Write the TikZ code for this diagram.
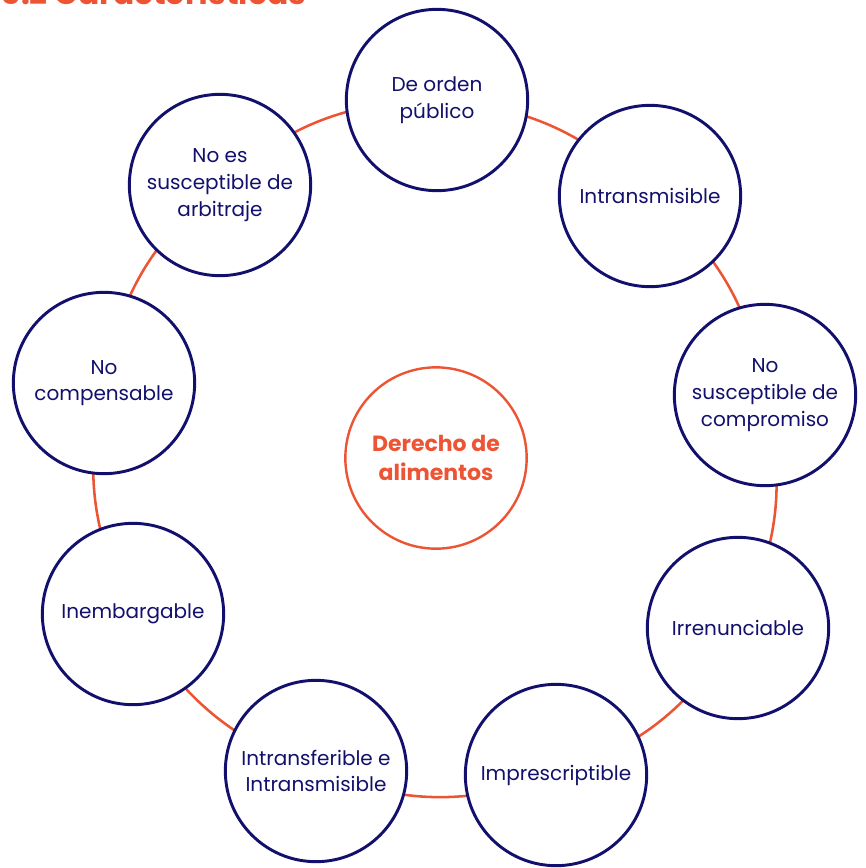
\documentclass[tikz,border=0pt]{standalone}
\usepackage{fontspec}
\setmainfont{Poppins}
\definecolor{dnavy}{RGB}{18,16,108}
\definecolor{dorange}{RGB}{236,84,52}
\usetikzlibrary{positioning,backgrounds}

\begin{document}
\begin{tikzpicture}[x=0.75pt, y=-0.75pt,
  trait/.style={circle, draw=dnavy, line width=2.2pt, fill=white, minimum size=136pt, inner sep=0pt, align=center, text=dnavy, font=\fontsize{15}{20}\selectfont},
  core/.style={circle, draw=dorange, line width=1.8pt, fill=white, minimum size=136pt, inner sep=0pt, align=center, text=dorange, font=\fontsize{16.5}{21.5}\selectfont\bfseries},
  ring/.style={draw=dorange, line width=1.9pt}]
  \useasboundingbox (0,0) rectangle (866,868);
  \clip (0,0) rectangle (866,868);

  \node[anchor=base west, text=dorange, font=\fontsize{23.5}{28}\selectfont\bfseries] (title) at (-4,4) {5.2 Características};

  \node[core]  (core) at (436,458) {Derecho de\\alimentos};

  \node[trait] (t1) at (437,100) {De orden\\público};
  \node[trait] (t2) at (650,196) {Intransmisible};
  \node[trait] (t3) at (765,395) {No\\susceptible de\\compromiso};
  \node[trait] (t4) at (738,628) {Irrenunciable};
  \node[trait] (t5) at (556,775) {Imprescriptible};
  \node[trait] (t6) at (316,771) {Intransferible e\\Intransmisible};
  \node[trait] (t7) at (133,614) {Inembargable};
  \node[trait] (t8) at (104,383) {No\\compensable};
  \node[trait] (t9) at (220,185) {No es\\susceptible de\\arbitraje};

  % ring behind the circles
  \begin{pgfonlayer}{background}
    \draw[ring] (t1.center) to[bend left=20] (t2.center);
    \draw[ring] (t2.center) to[bend left=20] (t3.center);
    \draw[ring] (t3.center) to[bend left=20] (t4.center);
    \draw[ring] (t4.center) to[bend left=20] (t5.center);
    \draw[ring] (t5.center) to[bend left=20] (t6.center);
    \draw[ring] (t6.center) to[bend left=20] (t7.center);
    \draw[ring] (t7.center) to[bend left=20] (t8.center);
    \draw[ring] (t8.center) to[bend left=20] (t9.center);
    \draw[ring] (t9.center) to[bend left=20] (t1.center);
  \end{pgfonlayer}
\end{tikzpicture}
\end{document}
